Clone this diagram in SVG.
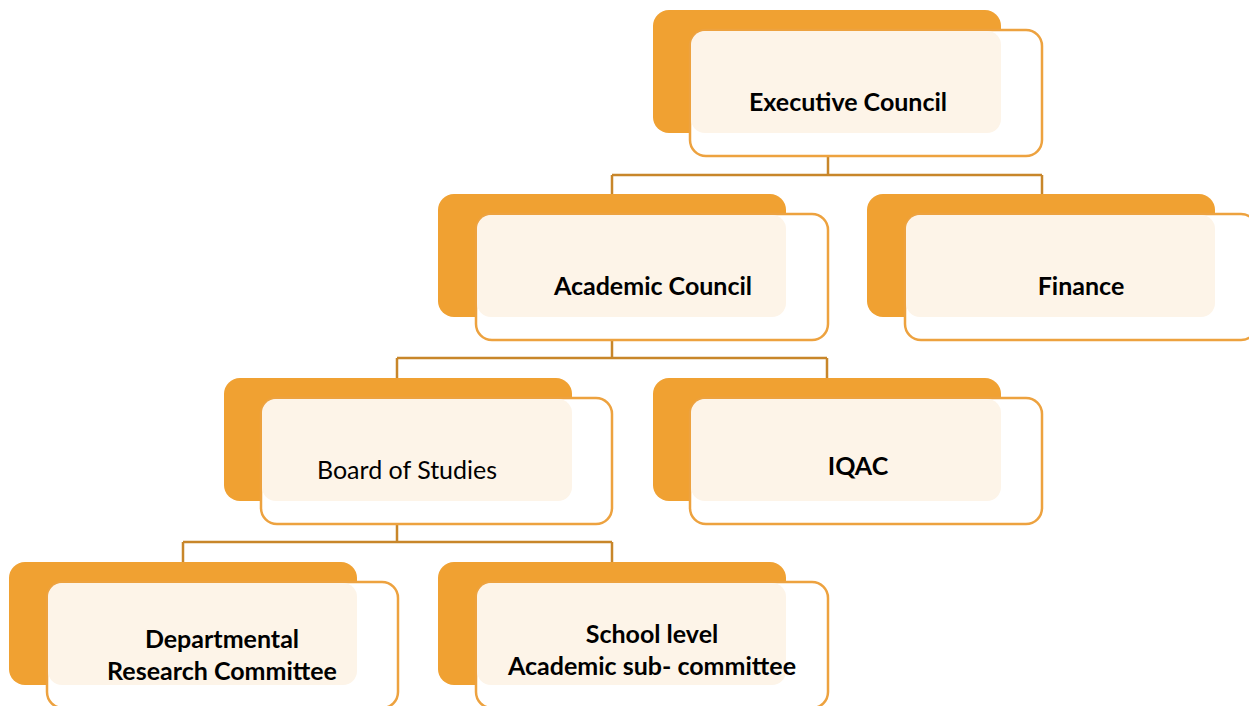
<svg xmlns="http://www.w3.org/2000/svg" width="1249" height="706" viewBox="0 0 1249 706">
<style>
.back{fill:#F0A132}
.outline{fill:#FFFFFF;stroke:#EDA23F;stroke-width:2.5}
.cream{fill:#FDF4E8}
.lbl{font-family:Lato,"Liberation Sans",sans-serif;font-size:25px;font-weight:bold;fill:#000;text-anchor:middle}
.reg{font-weight:normal}
.conn{fill:none;stroke:#C8862A;stroke-width:2.5}
</style>
<g id="connectors">
<path class="conn" d="M828,156 V175 M612,175 H1042 M612,175 V194 M1042,175 V194"/>
<path class="conn" d="M612,340 V358 M397,358 H827 M397,358 V378 M827,358 V378"/>
<path class="conn" d="M397,524 V542 M183,542 H612 M183,542 V562 M612,542 V562"/>
</g>
<g id="executive-council">
<rect class="back" x="653" y="10" width="348" height="123" rx="16"/>
<rect class="outline" x="690" y="30" width="352" height="126" rx="16"/>
<rect class="cream" x="691" y="31" width="310" height="102" rx="14"/>
<text class="lbl" x="848" y="111">Executive Council</text>
</g>
<g id="academic-council">
<rect class="back" x="438" y="194" width="348" height="123" rx="16"/>
<rect class="outline" x="476" y="214" width="352" height="126" rx="16"/>
<rect class="cream" x="477" y="215" width="309" height="102" rx="14"/>
<text class="lbl" x="653" y="295">Academic Council</text>
</g>
<g id="finance">
<rect class="back" x="867" y="194" width="348" height="123" rx="16"/>
<rect class="outline" x="905" y="214" width="352" height="126" rx="16"/>
<rect class="cream" x="906" y="215" width="309" height="102" rx="14"/>
<text class="lbl" x="1081" y="295">Finance</text>
</g>
<g id="board-of-studies">
<rect class="back" x="224" y="378" width="348" height="123" rx="16"/>
<rect class="outline" x="261" y="398" width="351" height="126" rx="16"/>
<rect class="cream" x="262" y="399" width="310" height="102" rx="14"/>
<text class="lbl reg" x="407" y="479">Board of Studies</text>
</g>
<g id="iqac">
<rect class="back" x="653" y="378" width="348" height="123" rx="16"/>
<rect class="outline" x="690" y="398" width="352" height="126" rx="16"/>
<rect class="cream" x="691" y="399" width="310" height="102" rx="14"/>
<text class="lbl" x="858" y="475">IQAC</text>
</g>
<g id="departmental-research-committee">
<rect class="back" x="9" y="562" width="348" height="123" rx="16"/>
<rect class="outline" x="47" y="582" width="351" height="126" rx="16"/>
<rect class="cream" x="48" y="583" width="309" height="102" rx="14"/>
<text class="lbl" x="222" y="648">Departmental</text>
<text class="lbl" x="222" y="680">Research Committee</text>
</g>
<g id="school-level-academic-sub-committee">
<rect class="back" x="438" y="562" width="348" height="123" rx="16"/>
<rect class="outline" x="476" y="582" width="352" height="126" rx="16"/>
<rect class="cream" x="477" y="583" width="309" height="102" rx="14"/>
<text class="lbl" x="652" y="643">School level</text>
<text class="lbl" x="652" y="675">Academic sub- committee</text>
</g>
</svg>
